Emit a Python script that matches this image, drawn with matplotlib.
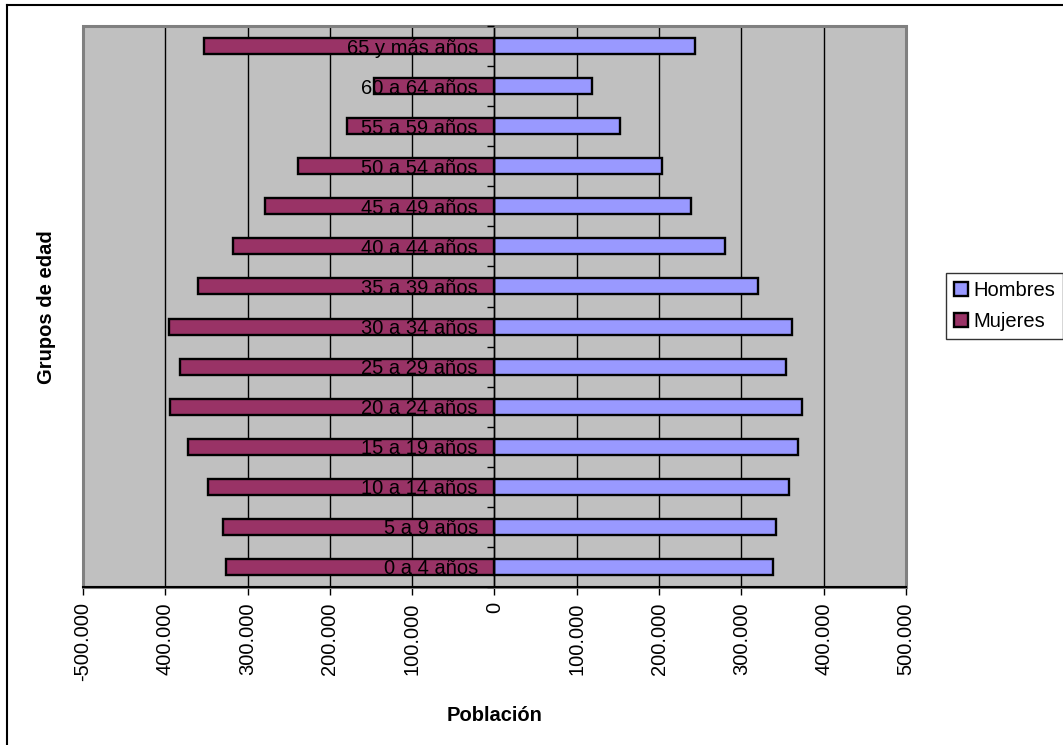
import matplotlib
matplotlib.use("Agg")
import matplotlib.pyplot as plt
from matplotlib.lines import Line2D
from matplotlib.patches import Rectangle, Patch
from matplotlib.ticker import FuncFormatter, FixedLocator
import numpy as np

plt.rcParams['font.family'] = ['Liberation Sans', 'DejaVu Sans']

grupos = ['0 a 4 años', '5 a 9 años', '10 a 14 años', '15 a 19 años',
          '20 a 24 años', '25 a 29 años', '30 a 34 años', '35 a 39 años',
          '40 a 44 años', '45 a 49 años', '50 a 54 años', '55 a 59 años',
          '60 a 64 años', '65 y más años']
hombres = [339000, 342000, 358000, 369000, 374000, 354000, 361000, 320000,
           280000, 239000, 203000, 152000, 118000, 244000]
mujeres = [326000, 330000, 348000, 373000, 394000, 382000, 396000, 360000,
           318000, 279000, 239000, 179000, 146000, 353000]


def fmt_pob(v, pos):
    # women's side shows absolute values, only the axis end keeps its sign
    v = int(round(v))
    if v > -500000:
        v = abs(v)
    return f"{v:,}".replace(',', '.')


W, H = 1063, 745
fig = plt.figure(figsize=(W / 100, H / 100), dpi=100)
ax = fig.add_axes([83 / W, 1 - 587 / H, (906 - 83) / W, (587 - 26) / H])
ax.set_facecolor('#C0C0C0')

y = np.arange(len(grupos))
ax.barh(y, hombres, height=0.4, color='#9999FF', edgecolor='black',
        linewidth=1.7, zorder=1, label='Hombres')
ax.barh(y, [-v for v in mujeres], height=0.4, color='#993366',
        edgecolor='black', linewidth=1.7, zorder=1, label='Mujeres')

ax.set_xlim(-500000, 500000)
ax.set_ylim(-0.5, len(grupos) - 0.5)

# x axis: ticks every 100.000, gridlines behind the bars
ax.set_xticks(np.arange(-500000, 500001, 100000))
ax.xaxis.set_major_formatter(FuncFormatter(fmt_pob))
ax.tick_params(axis='x', direction='out', length=6, width=1, pad=5,
               labelrotation=90, labelsize=14.5)
for lbl in ax.get_xticklabels():
    lbl.set_verticalalignment('top')
ax.grid(axis='x', color='black', linewidth=1)
ax.xaxis.set_zorder(0.5)

# y axis sits on the zero line with category names beside it
ax.spines['left'].set_position(('data', 0))
ax.spines['left'].set_linewidth(1)
ax.spines['left'].set_zorder(2)
ax.set_yticks(y)
ax.set_yticklabels(grupos)
ax.yaxis.set_minor_locator(FixedLocator(np.arange(-0.5, len(grupos), 1.0)))
ax.tick_params(axis='y', which='major', length=0, pad=12, labelsize=14.5)
ax.tick_params(axis='y', which='minor', direction='out', length=5, width=1)
ax.yaxis.set_zorder(5)

ax.spines['top'].set_visible(False)
ax.spines['right'].set_visible(False)
ax.spines['bottom'].set_linewidth(1.5)
ax.spines['bottom'].set_zorder(3)

# grey plot frame
ax.add_patch(Rectangle((0, 0), 1, 1, transform=ax.transAxes, fill=False,
                       edgecolor='#808080', linewidth=2.2, zorder=2.6,
                       clip_on=False))

ax.set_xlabel('Población', fontsize=14.5, fontweight='bold', labelpad=18)
fig.text(47 / W, 1 - 307 / H, 'Grupos de edad', rotation=90, fontsize=14.5,
         fontweight='bold', ha='center', va='center')

handles = [Patch(facecolor='#9999FF', edgecolor='black', linewidth=1.7),
           Patch(facecolor='#993366', edgecolor='black', linewidth=1.7)]
leg = fig.legend(handles, ['Hombres', 'Mujeres'], loc='upper left',
                 bbox_to_anchor=(946 / W, 1 - 273 / H), fontsize=14.5,
                 frameon=True, fancybox=False, handlelength=0.7,
                 handleheight=0.7, handletextpad=0.25, borderpad=0.4,
                 labelspacing=0.6, borderaxespad=0)
leg.get_frame().set_edgecolor('black')
leg.get_frame().set_linewidth(1)

# chart border (top and left edges)
fig.add_artist(Line2D([7 / W, 7 / W], [0, 1 - 5 / H], color='black', linewidth=1.5))
fig.add_artist(Line2D([7 / W, 1], [1 - 5 / H, 1 - 5 / H], color='black', linewidth=1.5))

fig.savefig('out.png', dpi=100)
